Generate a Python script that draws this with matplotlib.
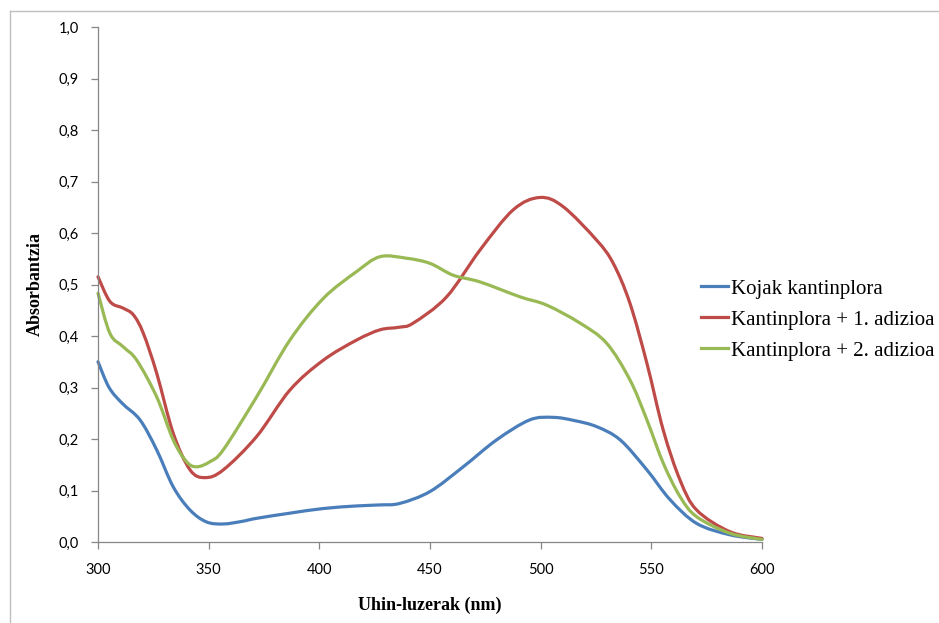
import matplotlib
matplotlib.use("Agg")
import matplotlib.pyplot as plt
import numpy as np
from matplotlib.lines import Line2D
from matplotlib.path import Path
from matplotlib.patches import PathPatch
from matplotlib.ticker import FuncFormatter

# Absorbance spectra (wavelength in nm, absorbance)
wl_kojak = [300, 305, 311, 319, 326.5, 334, 341.6, 349, 356.6, 365, 371.7, 386.7, 401.8,
            416.8, 427.4, 436.4, 450, 465, 480, 495, 505.7, 515, 525.3, 536, 548,
            558.5, 570.5, 585.5, 600]
abs_kojak = [0.350, 0.300, 0.269, 0.237, 0.179, 0.107, 0.062, 0.039, 0.035, 0.040, 0.046,
             0.056, 0.065, 0.070, 0.072, 0.075, 0.098, 0.146, 0.198, 0.237, 0.242, 0.236,
             0.224, 0.198, 0.140, 0.082, 0.036, 0.014, 0.005]

wl_add1 = [300, 305.4, 311.4, 316, 320.5, 326.5, 334, 341.6, 348.3, 356.6, 371.7, 386.7,
           401.8, 416.8, 427.4, 436, 442.4, 457.5, 472.6, 487.6, 499.7, 510.2, 525.3,
           532.8, 540.3, 548, 555.4, 563, 570.5, 585.5, 600]
abs_add1 = [0.515, 0.467, 0.454, 0.441, 0.405, 0.328, 0.211, 0.140, 0.125, 0.140, 0.205,
            0.295, 0.353, 0.392, 0.412, 0.417, 0.425, 0.476, 0.567, 0.645, 0.669, 0.651,
            0.586, 0.541, 0.464, 0.347, 0.217, 0.120, 0.062, 0.020, 0.007]

wl_add2 = [300, 305.4, 311.4, 317.5, 326.5, 334, 340, 344.6, 350.6, 356.6, 371.7, 386.7,
           401.8, 416.8, 427.4, 439.4, 450, 460.5, 472.6, 490.7, 502.7, 517.8, 529.8,
           540.3, 548, 555.4, 563, 570.5, 585.5, 600]
abs_add2 = [0.483, 0.405, 0.379, 0.353, 0.282, 0.198, 0.156, 0.146, 0.156, 0.179, 0.282,
            0.392, 0.473, 0.525, 0.554, 0.551, 0.541, 0.518, 0.505, 0.476, 0.460, 0.425,
            0.386, 0.315, 0.237, 0.153, 0.088, 0.049, 0.017, 0.005]

series_labels = ["Kojak kantinplora", "Kantinplora + 1. adizioa", "Kantinplora + 2. adizioa"]
x_ticks = [300, 350, 400, 450, 500, 550, 600]
y_ticks = [0.0, 0.1, 0.2, 0.3, 0.4, 0.5, 0.6, 0.7, 0.8, 0.9, 1.0]

colors = ["#4A7EBB", "#BE4B48", "#98B954"]
axis_grey = "#868686"
line_w = 2.3


def smoothed_path(x, y):
    """Cubic Bezier path through every (x, y) point (Catmull-Rom tangents)."""
    pts = np.column_stack([x, y]).astype(float)
    n = len(pts)
    verts = [pts[0]]
    codes = [Path.MOVETO]
    for i in range(n - 1):
        p0 = pts[i - 1] if i > 0 else pts[i]
        p1, p2 = pts[i], pts[i + 1]
        p3 = pts[i + 2] if i + 2 < n else pts[i + 1]
        verts += [p1 + (p2 - p0) / 6.0, p2 - (p3 - p1) / 6.0, p2]
        codes += [Path.CURVE4] * 3
    return Path(verts, codes)


fig = plt.figure(figsize=(9.39, 6.23), dpi=100)
ax = fig.add_axes([98 / 939, 1 - 542 / 623, (762 - 98) / 939, (542 - 27) / 623])

handles = []
for wl, ab, c, lab in zip([wl_kojak, wl_add1, wl_add2], [abs_kojak, abs_add1, abs_add2],
                          colors, series_labels):
    patch = PathPatch(smoothed_path(wl, ab), facecolor="none", edgecolor=c, lw=line_w,
                      capstyle="round", joinstyle="round", transform=ax.transData,
                      clip_on=False)
    ax.add_patch(patch)
    handles.append(Line2D([], [], color=c, lw=line_w, label=lab))

ax.set_xlim(300, 600)
ax.set_ylim(0, 1.0)
ax.set_xticks(x_ticks)
ax.set_yticks(y_ticks)
ax.yaxis.set_major_formatter(FuncFormatter(lambda v, p: f"{v:.1f}".replace(".", ",")))

for side in ("top", "right"):
    ax.spines[side].set_visible(False)
for side in ("left", "bottom"):
    ax.spines[side].set_color(axis_grey)
    ax.spines[side].set_linewidth(0.9)

ax.tick_params(axis="both", direction="out", length=5, width=0.9, color=axis_grey,
               labelsize=10.5, labelcolor="black")
ax.tick_params(axis="x", pad=10)
ax.tick_params(axis="y", pad=9)
for t in ax.get_xticklabels() + ax.get_yticklabels():
    t.set_family(["Lato", "DejaVu Sans"])

ax.set_xlabel("Uhin-luzerak (nm)", family=["Liberation Serif", "DejaVu Serif"],
              fontweight="bold", fontsize=13, labelpad=14)
ax.set_ylabel("Absorbantzia", family=["Liberation Serif", "DejaVu Serif"],
              fontweight="bold", fontsize=13, labelpad=10)

fig.legend(handles=handles, loc="upper left",
           bbox_to_anchor=(701 / 939, 1 - 279 / 623), bbox_transform=fig.transFigure,
           frameon=False, borderpad=0, borderaxespad=0,
           prop={"family": ["Liberation Serif", "DejaVu Serif"], "size": 15},
           handlelength=1.3, handletextpad=0.16, labelspacing=0.55)

# thin frame around the chart area
fig.add_artist(Line2D([9.5 / 939, 9.5 / 939], [0, 1 - 10.5 / 623],
                      transform=fig.transFigure, color="#BFBFBF", lw=1))
fig.add_artist(Line2D([9.5 / 939, 1], [1 - 10.5 / 623, 1 - 10.5 / 623],
                      transform=fig.transFigure, color="#BFBFBF", lw=1))

fig.savefig("out.png", dpi=100)
